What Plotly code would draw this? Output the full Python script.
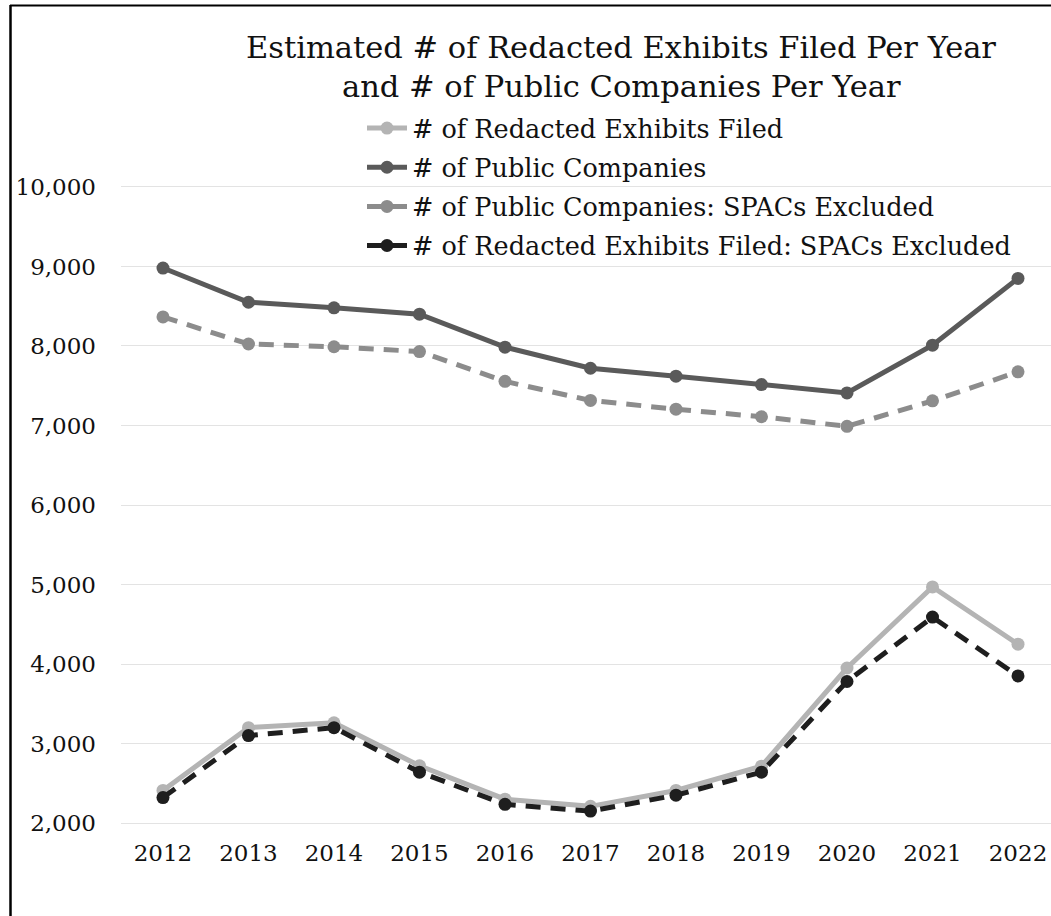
import plotly.graph_objects as go

years = ["2012", "2013", "2014", "2015", "2016", "2017", "2018", "2019", "2020", "2021", "2022"]
redacted = [2410, 3200, 3260, 2720, 2300, 2210, 2410, 2715, 3950, 4970, 4250]
public = [8980, 8550, 8480, 8400, 7985, 7720, 7620, 7515, 7410, 8010, 8850]
public_ex = [8365, 8025, 7990, 7930, 7555, 7315, 7205, 7110, 6990, 7310, 7675]
redacted_ex = [2320, 3100, 3200, 2640, 2235, 2150, 2350, 2640, 3780, 4590, 3850]

title_lines = ["Estimated # of Redacted Exhibits Filed Per Year",
               "and # of Public Companies Per Year"]
y_ticks = [2000, 3000, 4000, 5000, 6000, 7000, 8000, 9000, 10000]

FONT = "DejaVu Serif"
W, H = 1051, 916
L, R, T, B = 121, 0, 179, 85
plot_w = W - L - R
plot_h = H - T - B

def px_x(p):
    return (p - L) / plot_w

def px_y(p):
    return 1 - (p - T) / plot_h

fig = go.Figure()
series = [
    ("# of Redacted Exhibits Filed", redacted, "#b4b4b4", "solid"),
    ("# of Public Companies", public, "#5a5a5a", "solid"),
    ("# of Public Companies: SPACs Excluded", public_ex, "#8c8c8c", "15px,10px"),
    ("# of Redacted Exhibits Filed: SPACs Excluded", redacted_ex, "#1e1e1e", "15px,10px"),
]
for i, (name, vals, color, dash) in enumerate(series):
    fig.add_trace(go.Scatter(
        x=years, y=vals, name=name, mode="lines+markers",
        line=dict(color=color, width=5, dash=dash),
        marker=dict(color=color, size=13),
        legendgroup=f"g{i}",
    ))

fig.update_layout(
    width=W, height=H,
    margin=dict(l=L, r=R, t=T, b=B, pad=0),
    paper_bgcolor="white", plot_bgcolor="white",
    font=dict(family=FONT, color="#111111"),
    showlegend=True,
    legend=dict(
        x=px_x(362), y=px_y(105), xanchor="left", yanchor="top",
        font=dict(family=FONT, size=25.5, color="#111111"),
        bgcolor="rgba(0,0,0,0)", tracegroupgap=3,
        itemwidth=40,
    ),
    xaxis=dict(
        type="category", range=[-0.491, 10.386],
        showgrid=False, showline=False, zeroline=False, ticks="",
        tickfont=dict(family=FONT, size=23, color="#111111"),
        ticklabelstandoff=6,
    ),
    yaxis=dict(
        range=[1900, 10100], tickvals=y_ticks, tickformat=",d",
        showgrid=True, gridcolor="#e3e3e3", gridwidth=1,
        showline=False, zeroline=False, ticks="",
        tickfont=dict(family=FONT, size=23, color="#111111"),
        ticklabelstandoff=24,
    ),
)

for line_text, ypix in zip(title_lines, [47, 87]):
    fig.add_annotation(text=line_text, xref="paper", yref="paper",
                       x=px_x(621), y=px_y(ypix), xanchor="center", yanchor="middle",
                       showarrow=False, font=dict(family=FONT, size=30.5, color="#111111"))

# frame lines
fig.add_shape(type="line", xref="paper", yref="paper",
              x0=px_x(10.5), x1=px_x(10.5), y0=px_y(5), y1=px_y(930),
              line=dict(color="black", width=2.5))
fig.add_shape(type="line", xref="paper", yref="paper",
              x0=px_x(10), x1=px_x(1060), y0=px_y(5.5), y1=px_y(5.5),
              line=dict(color="black", width=2))

fig.write_html("out.html")
